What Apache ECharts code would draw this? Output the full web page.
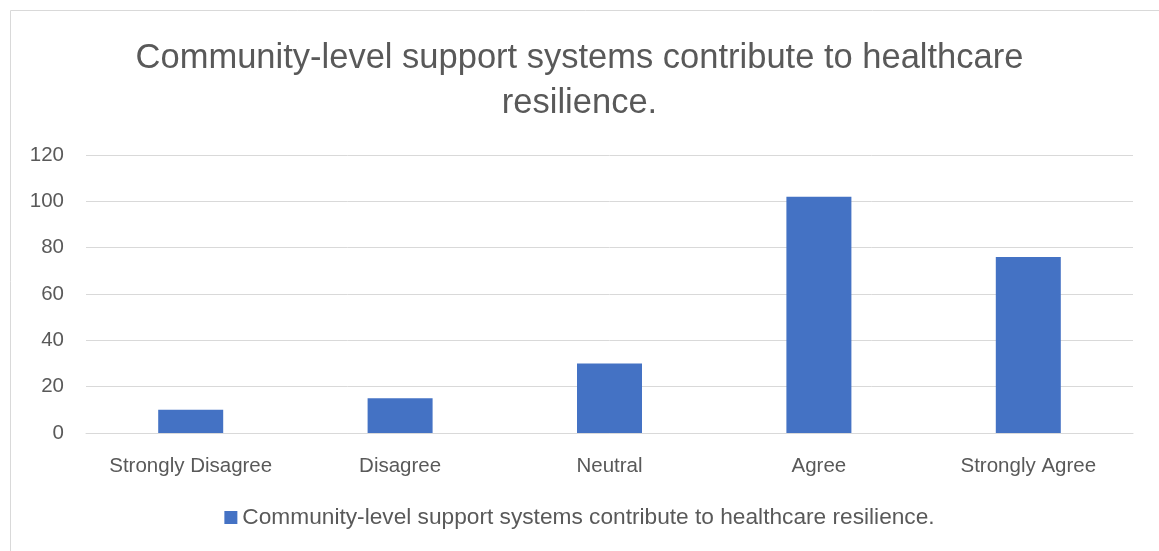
<!DOCTYPE html>
<html><head><meta charset="utf-8">
<script src="https://cdn.jsdelivr.net/npm/echarts@6/dist/echarts.min.js"></script>
<style>html,body{margin:0;padding:0;background:#fff}#c{width:1159px;height:551px}</style>
</head><body><div id="c"></div>
<script>
const categories = ['Strongly Disagree','Disagree','Neutral','Agree','Strongly Agree'];
const values = [10, 15, 30, 102, 76];
const seriesName = 'Community-level support systems contribute to healthcare resilience.';
const titleText = 'Community-level support systems contribute to healthcare\nresilience.';
const yTicks = [0, 20, 40, 60, 80, 100, 120];

const chart = echarts.init(document.getElementById('c'));
const font = 'Liberation Sans';
chart.setOption({
  animation: false,
  graphic: [{type:'rect', shape:{x:10.5,y:10.5,width:1160,height:560}, style:{fill:'none', stroke:'#d9d9d9', lineWidth:1}}],
  title: {text: titleText, left: 'center', top: 31, textStyle:{fontFamily:font, fontSize:34.5, fontWeight:'normal', color:'#595959', lineHeight:45}},
  legend: {bottom: 17, left:'center', itemWidth:13, itemHeight:13, itemGap:5, icon:'rect', textStyle:{fontFamily:font, fontSize:22.7, color:'#595959'}, data:[seriesName]},
  grid: {left: 86, right: 26, top: 155, bottom: 118, containLabel:false},
  xAxis: {type:'category', data: categories, axisTick:{show:false}, axisLine:{lineStyle:{color:'#d9d9d9'}}, axisLabel:{interval:0, fontFamily:font, fontSize:20.5, color:'#595959', margin:23}},
  yAxis: {type:'value', min: yTicks[0], max: yTicks[yTicks.length-1], interval: 20, axisLine:{show:false}, axisTick:{show:false}, splitLine:{lineStyle:{color:'#d9d9d9'}}, axisLabel:{fontFamily:font, fontSize:20.5, color:'#595959', margin:22}},
  series: [{name: seriesName, type:'bar', data: values, barWidth: 65, itemStyle:{color:'#4472C4'}}]
});
</script></body></html>
